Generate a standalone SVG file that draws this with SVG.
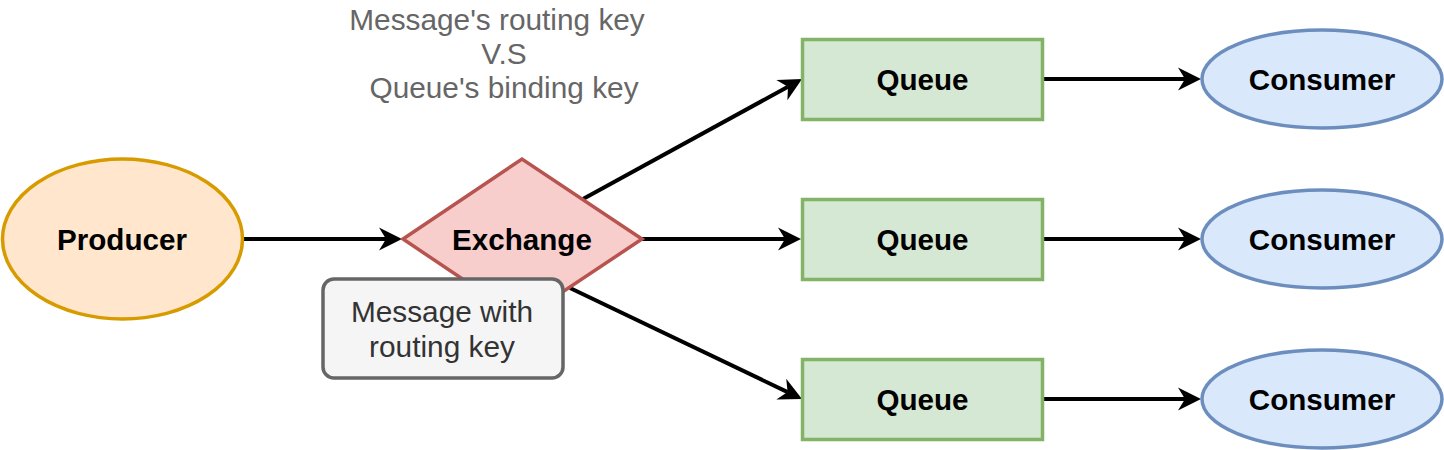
<svg xmlns="http://www.w3.org/2000/svg" width="1444" height="450" viewBox="0 0 1444 450">
<defs>
<style>
.lbl{font-family:"Liberation Sans",Arial,Helvetica,sans-serif;font-size:29.6px;font-weight:bold;fill:#000;text-anchor:middle}
.note{font-family:"Liberation Sans",Arial,Helvetica,sans-serif;font-size:29.8px;text-anchor:middle}
.edge{stroke:#000;stroke-width:4;fill:none;marker-end:url(#arrow)}
.cons{fill:#dae8fc;stroke:#6c8ebf;stroke-width:3.5}
.queue{fill:#d5e8d4;stroke:#82b366;stroke-width:3.5}
</style>
<marker id="arrow" markerUnits="userSpaceOnUse" markerWidth="26" markerHeight="26" viewBox="0 0 26 26" refX="8" refY="12" orient="auto">
<path d="M24,12 L1,0.5 L8,12 L1,23.5 Z" fill="#000"/>
</marker>
</defs>
<rect width="1444" height="450" fill="#fff"/>
<g id="connectors">
<line class="edge" x1="243" y1="239" x2="386" y2="239"/>
<line class="edge" x1="642" y1="239" x2="785" y2="239"/>
<line class="edge" x1="583" y1="199" x2="788" y2="86.7"/>
<line class="edge" x1="570" y1="288" x2="787.6" y2="392.1"/>
<line class="edge" x1="1043" y1="79" x2="1185" y2="79"/>
<line class="edge" x1="1043" y1="239" x2="1185" y2="239"/>
<line class="edge" x1="1043" y1="399" x2="1185" y2="399"/>
</g>
<g id="producer">
<ellipse cx="122.5" cy="239" rx="120" ry="80" fill="#ffe6cc" stroke="#d79b00" stroke-width="3.5"/>
<text class="lbl" x="122" y="250">Producer</text>
</g>
<g id="exchange">
<polygon points="403,239 522,159 642,239 522,319" fill="#f8cecc" stroke="#b85450" stroke-width="3.5"/>
<text class="lbl" x="522" y="250">Exchange</text>
</g>
<g id="queue1">
<rect class="queue" x="802.5" y="39.5" width="240" height="80"/>
<text class="lbl" x="922.5" y="90">Queue</text>
</g>
<g id="queue2">
<rect class="queue" x="802.5" y="199.5" width="240" height="80"/>
<text class="lbl" x="922.5" y="250">Queue</text>
</g>
<g id="queue3">
<rect class="queue" x="802.5" y="359.5" width="240" height="80"/>
<text class="lbl" x="922.5" y="410">Queue</text>
</g>
<g id="consumer1">
<ellipse class="cons" cx="1322" cy="79" rx="120" ry="49"/>
<text class="lbl" x="1322" y="90">Consumer</text>
</g>
<g id="consumer2">
<ellipse class="cons" cx="1322" cy="239" rx="120" ry="49"/>
<text class="lbl" x="1322" y="250">Consumer</text>
</g>
<g id="consumer3">
<ellipse class="cons" cx="1322" cy="399" rx="120" ry="49"/>
<text class="lbl" x="1322" y="410">Consumer</text>
</g>
<g id="message">
<rect x="323" y="279" width="240" height="99" rx="11" ry="11" fill="#f5f5f5" stroke="#666666" stroke-width="3.5"/>
<text class="note" fill="#333333" x="442" y="322">Message with</text>
<text class="note" fill="#333333" x="442" y="356.5">routing key</text>
</g>
<g id="keylabel">
<text class="note" fill="#666666" x="497" y="30">Message's routing key</text>
<text class="note" fill="#666666" x="504" y="63.5">V.S</text>
<text class="note" fill="#666666" x="504" y="97.5">Queue's binding key</text>
</g>
</svg>
